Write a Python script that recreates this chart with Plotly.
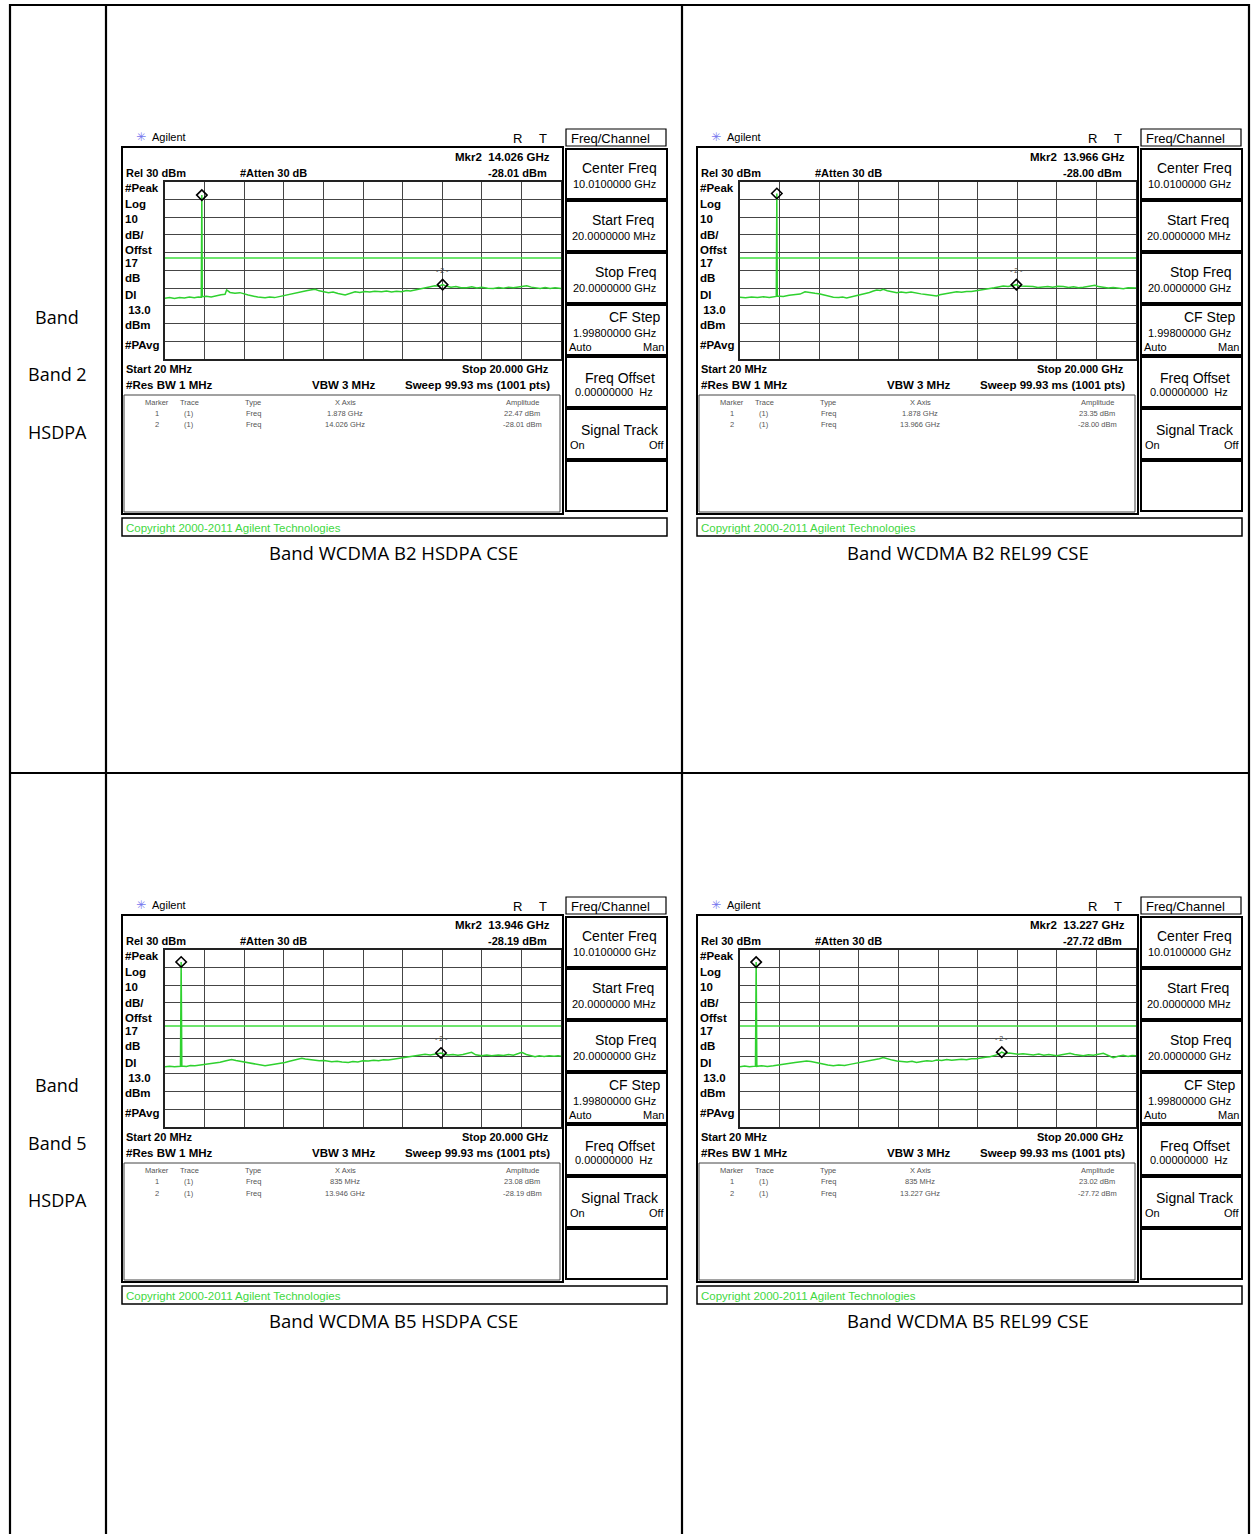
import plotly.graph_objects as go

W, H = 1251, 1534      # page size in the reference

# ---- data ----
START_GHZ = 0.02
STOP_GHZ = 20.0
REF_DBM = 30
DB_PER_DIV = 10
DISPLAY_LINE_DBM = -13.0

captions = ['Band WCDMA B2 HSDPA CSE', 'Band WCDMA B2 REL99 CSE',
            'Band WCDMA B5 HSDPA CSE', 'Band WCDMA B5 REL99 CSE']
row_labels = [['Band', 'Band 2', 'HSDPA'], ['Band', 'Band 5', 'HSDPA']]

mkr1_freq = [1.878, 1.878, 0.835, 0.835]
mkr1_dbm = [22.47, 23.35, 23.08, 23.02]
mkr1_text = ['1.878 GHz', '1.878 GHz', '835 MHz', '835 MHz']
mkr2_freq = [14.026, 13.966, 13.946, 13.227]
mkr2_dbm = [-28.01, -28.00, -28.19, -27.72]

b2_hsdpa_freq = [0.02, 0.25, 0.50, 0.75, 1.00, 1.25, 1.50, 1.70, 1.85, 1.878, 1.90, 2.10, 2.35, 2.60, 2.85,
                 3.05, 3.13, 3.30, 3.55, 3.80, 4.05, 4.22, 4.45, 4.70, 5.07, 5.30, 5.55, 5.74, 6.00, 6.24,
                 6.50, 6.70, 6.92, 7.15, 7.35, 7.59, 7.80, 8.05, 8.27, 8.50, 8.75, 9.11, 9.35, 9.61, 9.85,
                 10.10, 10.35, 10.60, 10.95, 11.20, 11.45, 11.70, 11.96, 12.20, 12.40, 12.63, 12.85, 13.10,
                 13.35, 13.64, 13.85, 14.026, 14.20, 14.45, 14.70, 14.95, 15.24, 15.50, 15.75, 16.00, 16.30,
                 16.59, 16.85, 17.10, 17.35, 17.60, 17.85, 18.05, 18.27, 18.50, 18.75, 18.95, 19.20, 19.45,
                 19.70, 20.00]
b2_hsdpa_dbm = [-35.6, -35.3, -35.8, -35.2, -35.5, -35.0, -35.4, -34.9, -35.1, 22.47, -34.8, -34.5, -34.9, -34.1, -33.7,
                -33.4, -31.0, -32.4, -32.9, -32.5, -33.4, -33.8, -34.4, -35.0, -35.4, -35.0, -35.3, -34.8, -34.1, -33.5,
                -33.0, -32.3, -32.0, -31.4, -31.0, -30.6, -31.5, -31.9, -32.5, -32.1, -33.0, -33.8, -32.9, -32.0, -32.4,
                -31.8, -32.2, -31.7, -32.0, -31.6, -32.1, -31.7, -32.0, -31.3, -31.6, -31.0, -30.4, -30.0,
                -29.3, -28.6, -28.9, -28.01, -28.8, -29.5, -29.1, -29.8, -29.7, -29.2, -29.9, -29.5, -30.0,
                -30.1, -29.6, -30.0, -29.4, -29.8, -29.3, -28.9, -28.6, -29.4, -29.9, -30.1, -29.6, -30.2,
                -29.8, -30.1]

b2_rel99_freq = [0.02, 0.30, 0.60, 0.90, 1.20, 1.50, 1.85, 1.878, 1.90, 2.20, 2.50, 2.80, 3.05, 3.30, 3.55,
                 3.80, 4.06, 4.30, 4.50, 4.73, 5.00, 5.20, 5.40, 5.65, 5.85, 6.07, 6.30, 6.55, 6.75, 6.92,
                 7.10, 7.25, 7.45, 7.70, 7.93, 8.15, 8.40, 8.65, 8.93, 9.15, 9.40, 9.61, 9.80, 9.94, 10.10,
                 10.28, 10.50, 10.70, 10.95, 11.20, 11.45, 11.70, 11.96, 12.20, 12.40, 12.63, 12.85, 13.05,
                 13.30, 13.55, 13.75, 13.966, 14.10, 14.31, 14.55, 14.80, 15.05, 15.32, 15.55, 15.80, 16.05,
                 16.33, 16.60, 16.85, 17.10, 17.34, 17.60, 17.80, 17.93, 18.10, 18.35, 18.60, 18.85, 19.10,
                 19.36, 19.60, 19.80, 20.00]
b2_rel99_dbm = [-35.1, -35.4, -34.9, -35.3, -34.8, -35.2, -34.6, 23.35, -34.4, -34.7, -34.0, -33.8, -33.3, -32.0, -32.6,
                -32.9, -33.3, -34.0, -34.6, -35.1, -35.3, -35.0, -35.5, -34.9, -34.3, -33.8, -33.0, -32.4, -31.6, -31.0,
                -31.3, -30.6, -31.4, -32.0, -32.5, -32.1, -32.6, -32.2, -32.9, -33.2, -33.6, -33.8, -34.1, -34.4, -33.7,
                -33.3, -32.8, -32.3, -32.0, -32.3, -31.8, -31.9, -31.5, -31.0, -30.7, -30.1, -29.8, -29.3,
                -28.8, -29.0, -28.5, -28.00, -28.7, -28.8, -29.3, -29.0, -29.6, -29.5, -29.0, -29.4, -28.9,
                -29.1, -29.6, -29.2, -29.7, -29.5, -29.0, -28.6, -28.4, -29.1, -29.5, -29.9, -29.6, -30.1,
                -30.3, -29.8, -30.0, -29.9]

b5_hsdpa_freq = [0.02, 0.25, 0.50, 0.80, 0.835, 0.87, 1.10, 1.30, 1.53, 1.80, 2.05, 2.30, 2.54, 2.80, 3.05,
                 3.20, 3.38, 3.60, 3.85, 4.05, 4.22, 4.45, 4.70, 4.90, 5.07, 5.30, 5.55, 5.80, 6.07, 6.30,
                 6.50, 6.70, 6.92, 7.10, 7.35, 7.59, 7.80, 8.05, 8.25, 8.43, 8.70, 8.95, 9.27, 9.50, 9.75,
                 10.00, 10.28, 10.55, 10.80, 11.05, 11.29, 11.55, 11.80, 12.05, 12.30, 12.55, 12.80, 13.14,
                 13.40, 13.65, 13.946, 14.10, 14.31, 14.55, 14.80, 15.05, 15.30, 15.49, 15.70, 16.00, 16.25,
                 16.50, 16.84, 17.10, 17.35, 17.60, 17.85, 18.02, 18.25, 18.50, 18.69, 18.90, 19.15, 19.40,
                 19.65, 19.85, 20.00]
b5_hsdpa_dbm = [-35.9, -35.6, -36.0, -35.7, 23.08, -35.5, -35.8, -35.3, -35.4, -35.0, -34.6, -34.3, -34.0, -33.4, -32.7,
                -32.2, -31.8, -32.4, -32.9, -33.2, -33.5, -34.2, -34.8, -35.1, -35.4, -35.0, -34.6, -34.1, -33.5, -32.8,
                -32.3, -31.6, -31.2, -31.6, -31.9, -32.1, -32.6, -32.4, -32.9, -33.1, -32.8, -33.3, -33.5, -33.0, -33.2,
                -32.6, -32.7, -32.3, -32.5, -32.0, -32.1, -31.6, -31.2, -30.8, -30.3, -30.0, -29.5, -28.9,
                -29.3, -28.7, -28.19, -28.9, -29.3, -29.0, -29.5, -29.1, -28.6, -27.8, -29.2, -29.7, -29.3,
                -29.8, -29.3, -29.6, -29.0, -29.4, -28.5, -27.8, -29.0, -29.6, -30.3, -29.8, -30.2, -29.7,
                -30.0, -29.8, -30.1]

b5_rel99_freq = [0.02, 0.25, 0.50, 0.80, 0.835, 0.87, 1.10, 1.40, 1.70, 1.95, 2.25, 2.54, 2.80, 3.10, 3.38,
                 3.60, 3.89, 4.15, 4.45, 4.73, 5.00, 5.30, 5.57, 5.85, 6.10, 6.35, 6.58, 6.80, 7.05, 7.25,
                 7.45, 7.70, 7.93, 8.20, 8.45, 8.70, 8.93, 9.20, 9.45, 9.70, 9.94, 10.20, 10.45, 10.70, 10.95,
                 11.20, 11.45, 11.70, 11.96, 12.20, 12.40, 12.63, 12.85, 13.05, 13.227, 13.40, 13.60, 13.81,
                 14.05, 14.30, 14.55, 14.82, 15.10, 15.35, 15.60, 15.80, 16.00, 16.25, 16.45, 16.67, 16.90,
                 17.10, 17.34, 17.60, 17.85, 18.10, 18.35, 18.60, 18.85, 19.10, 19.35, 19.60, 19.80, 20.00]
b5_rel99_dbm = [-35.9, -35.5, -36.0, -35.6, 23.02, -35.7, -35.4, -35.8, -35.4, -34.9, -34.5, -34.0, -33.6, -33.1, -32.7,
                -33.0, -33.5, -34.2, -34.9, -35.4, -35.0, -35.2, -34.6, -34.0, -33.6, -33.0, -32.7, -32.0, -31.4, -30.8,
                -31.5, -32.2, -32.7, -32.9, -33.2, -32.8, -33.5, -33.0, -32.6, -32.9, -32.1, -32.4, -31.9, -32.3, -32.1,
                -31.7, -32.0, -31.4, -31.5, -30.9, -30.6, -30.3, -29.6, -29.0, -27.72, -28.6, -28.2, -28.4,
                -28.9, -28.6, -29.1, -29.3, -28.8, -29.4, -29.0, -29.5, -29.7, -29.2, -28.8, -28.4, -29.0,
                -29.3, -29.7, -29.2, -29.5, -28.9, -28.4, -29.6, -30.8, -30.0, -29.5, -30.1, -29.6, -29.7]

traces_freq = [b2_hsdpa_freq, b2_rel99_freq, b5_hsdpa_freq, b5_rel99_freq]
traces_dbm = [b2_hsdpa_dbm, b2_rel99_dbm, b5_hsdpa_dbm, b5_rel99_dbm]

# ---- page geometry (pixels of the 1251x1534 page) ----
offsets = [(0, 0), (575, 0), (0, 768), (575, 768)]
GX0, GX1, GY0, GY1 = 165, 561, 181.7, 359.2   # graticule of the first screenshot
AN_FONT = 'Liberation Sans, Arial, sans-serif'
DOC_FONT = 'Open Sans, sans-serif'
GREEN = '#2fd12f'

shapes = []
anns = []


def fx(x):
    return x / W


def fy(y):
    return 1 - y / H


def label(x, y, s, size=11, anchor='left', bold=False, color='black', fam=AN_FONT):
    anns.append(dict(xref='paper', yref='paper', x=fx(x), y=fy(y),
                     text='<b>%s</b>' % s if bold else s, showarrow=False,
                     xanchor=anchor, yanchor='middle',
                     font=dict(family=fam, size=size, color=color)))


def box(x0, y0, x1, y1, w=1.5, color='black'):
    shapes.append(dict(type='rect', xref='paper', yref='paper',
                       x0=fx(x0), x1=fx(x1), y0=fy(y1), y1=fy(y0),
                       line=dict(color=color, width=w)))


def hline(x0, x1, y, w=2.2):
    shapes.append(dict(type='line', xref='paper', yref='paper', x0=fx(x0), x1=fx(x1),
                       y0=fy(y), y1=fy(y), line=dict(color='black', width=w)))


def vline(x, y0, y1, w=2.2):
    shapes.append(dict(type='line', xref='paper', yref='paper', x0=fx(x), x1=fx(x),
                       y0=fy(y0), y1=fy(y1), line=dict(color='black', width=w)))


# table
vline(10, 4, H)
vline(106, 4, H)
vline(682, 4, H)
vline(1249, 4, H)
hline(9, 1250, 5)
hline(9, 1250, 773)

for r, labs in enumerate(row_labels):
    for k, s in enumerate(labs):
        label(57, 317 + 57.5 * k + 768 * r, s, size=18, anchor='center', fam=DOC_FONT)

fig = go.Figure()

for i in range(4):
    ox, oy = offsets[i]
    n = '' if i == 0 else str(i + 1)
    xa, ya = 'x' + n, 'y' + n

    # screenshot frame
    label(141 + ox, 137 + oy, '✳', size=12, anchor='center', color='#7777ee', fam='DejaVu Sans')
    label(150 + ox, 137 + oy, 'Agilent', size=11)
    label(517 + ox, 138 + oy, 'R', size=13, anchor='center')
    label(543 + ox, 138 + oy, 'T', size=13, anchor='center')
    box(122 + ox, 147 + oy, 563 + ox, 514 + oy, w=2)
    box(124 + ox, 395 + oy, 560 + ox, 512 + oy, w=1, color='#444')
    box(122 + ox, 518 + oy, 667 + ox, 536 + oy, w=1.5)
    label(124 + ox, 528 + oy, 'Copyright 2000-2011 Agilent Technologies', size=11.5, color='#3fd83f')

    # header texts
    label(124 + ox, 173 + oy, 'Rel 30 dBm', bold=True)
    label(238 + ox, 173 + oy, '#Atten 30 dB', bold=True)
    label(552 + ox, 157 + oy, 'Mkr2  %.3f GHz' % mkr2_freq[i], size=11.5, anchor='right', bold=True)
    label(549 + ox, 173 + oy, '%.2f dBm' % mkr2_dbm[i], anchor='right', bold=True)
    side = [('#Peak', 188), ('Log', 204), ('10', 219), ('dB/', 235), ('Offst', 250), ('17', 263),
            ('dB', 278), ('Dl', 295), (' 13.0', 310), ('dBm', 325), ('#PAvg', 345)]
    for s, y in side:
        label(123 + ox, y + oy, s, size=11.5, bold=True)
    label(124 + ox, 369 + oy, 'Start 20 MHz', bold=True)
    label(551 + ox, 369 + oy, 'Stop 20.000 GHz', anchor='right', bold=True)
    label(124 + ox, 385 + oy, '#Res BW 1 MHz', size=11.5, bold=True)
    label(344 + ox, 385 + oy, 'VBW 3 MHz', size=11.5, anchor='center', bold=True)
    label(552 + ox, 385 + oy, 'Sweep 99.93 ms (1001 pts)', size=11.5, anchor='right', bold=True)

    # marker table
    cols = [157, 189, 253, 345, 522]
    rows = [['Marker', 'Trace', 'Type', 'X Axis', 'Amplitude'],
            ['1', '(1)', 'Freq', mkr1_text[i], '%.2f dBm' % mkr1_dbm[i]],
            ['2', '(1)', 'Freq', '%.3f GHz' % mkr2_freq[i], '%.2f dBm' % mkr2_dbm[i]]]
    for k, row in enumerate(rows):
        for cx, s in zip(cols, row):
            label(cx + ox, 402 + 11.5 * k + oy, s, size=7.5, anchor='center', color='#555')

    # softkeys
    box(566 + ox, 129 + oy, 666 + ox, 146 + oy, w=1.2)
    label(569 + ox, 138 + oy, 'Freq/Channel', size=13)
    for k in range(7):
        box(566 + ox, 149 + 52 * k + oy, 667 + ox, 199 + 52 * k + oy, w=2)
    label(619 + ox, 168 + oy, 'Center Freq', size=14, anchor='center')
    label(614 + ox, 184 + oy, '10.0100000 GHz', size=11, anchor='center')
    label(656 + ox, 220 + oy, 'Start Freq', size=14, anchor='right')
    label(614 + ox, 236 + oy, '20.0000000 MHz', size=11, anchor='center')
    label(658 + ox, 272 + oy, 'Stop Freq', size=14, anchor='right')
    label(614 + ox, 288 + oy, '20.0000000 GHz', size=11, anchor='center')
    label(663 + ox, 317 + oy, 'CF Step', size=14, anchor='right')
    label(614 + ox, 333 + oy, '1.99800000 GHz', size=11, anchor='center')
    label(567 + ox, 347 + oy, 'Auto', size=11)
    label(666 + ox, 347 + oy, 'Man', size=11, anchor='right')
    label(620 + ox, 378 + oy, 'Freq Offset', size=14, anchor='center')
    label(614 + ox, 392 + oy, '0.00000000  Hz', size=11, anchor='center')
    label(620 + ox, 430 + oy, 'Signal Track', size=14, anchor='center')
    label(568 + ox, 445 + oy, 'On', size=11)
    label(666 + ox, 445 + oy, 'Off', size=11, anchor='right')

    label(393 + ox, 552 + oy, captions[i], size=18.5, anchor='center', fam=DOC_FONT)

    # graticule axes
    axis_x = dict(domain=[fx(GX0 + ox), fx(GX1 + ox)], range=[START_GHZ, STOP_GHZ],
                  tick0=START_GHZ, dtick=(STOP_GHZ - START_GHZ) / 10, showgrid=True,
                  gridcolor='#454545', gridwidth=1, showline=True, mirror=True,
                  linecolor='#222', linewidth=1.5, showticklabels=False, ticks='',
                  zeroline=False, anchor=ya)
    axis_y = dict(domain=[fy(GY1 + oy), fy(GY0 + oy)],
                  range=[REF_DBM - 10 * DB_PER_DIV, REF_DBM], dtick=DB_PER_DIV,
                  showgrid=True, gridcolor='#454545', gridwidth=1, showline=True, mirror=True,
                  linecolor='#222', linewidth=1.5, showticklabels=False, ticks='',
                  zeroline=False, anchor=xa)
    fig.update_layout({'xaxis' + n: axis_x, 'yaxis' + n: axis_y})

    fig.add_trace(go.Scatter(x=[START_GHZ, STOP_GHZ], y=[DISPLAY_LINE_DBM, DISPLAY_LINE_DBM],
                             mode='lines', line=dict(color='#3ede3e', width=1.6),
                             xaxis=xa, yaxis=ya, hoverinfo='skip'))
    fig.add_trace(go.Scatter(x=traces_freq[i], y=traces_dbm[i], mode='lines',
                             line=dict(color=GREEN, width=1.5), xaxis=xa, yaxis=ya))
    fig.add_trace(go.Scatter(x=[mkr1_freq[i], mkr2_freq[i]], y=[mkr1_dbm[i], mkr2_dbm[i]],
                             mode='markers', xaxis=xa, yaxis=ya,
                             marker=dict(symbol='diamond-open', size=8, color='black',
                                         line=dict(width=1.6, color='black'))))
    anns.append(dict(xref=xa, yref=ya, x=mkr2_freq[i], y=mkr2_dbm[i], text='- 2 -',
                     showarrow=False, yshift=14, font=dict(family=AN_FONT, size=7, color='#444')))

fig.update_layout(width=W, height=H, margin=dict(l=0, r=0, t=0, b=0),
                  paper_bgcolor='white', plot_bgcolor='white', showlegend=False,
                  shapes=shapes, annotations=anns)

# the page is photographed edge to edge, so drop the browser's default body margin
fig.write_html("out.html", config={'displayModeBar': False},
               post_script="document.body.style.margin = '0';")
